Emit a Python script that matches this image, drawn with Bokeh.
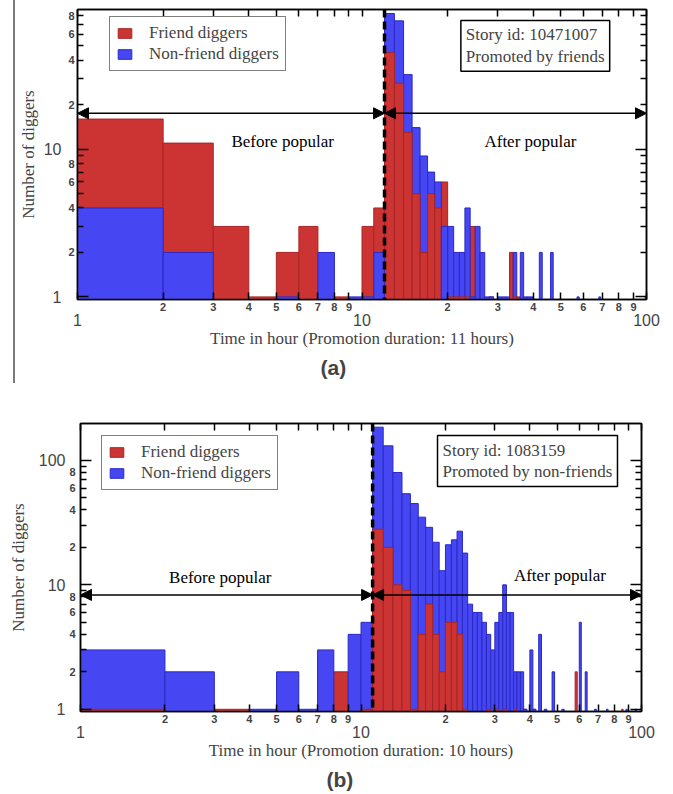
from bokeh.plotting import figure
from bokeh.models import (ColumnDataSource, FixedTicker, LogAxis, CustomJSTickFormatter,
                          Span, Arrow, NormalHead, Label, Legend, LegendItem, Title, Div, Range1d)
from bokeh.layouts import column, row
from bokeh.embed import file_html
from bokeh.resources import INLINE

# ---------------- data (1-hour bins, bin start hour -> number of diggers) ----------------
# (a) story 10471007, promoted by friends (promotion after 11 hours -> t = 12)
a_friend_hours = [1, 2, 3, 4, 5, 6, 8, 10, 11, 12, 13, 14, 15, 16, 17, 18, 19, 20, 21, 22, 23, 24, 28, 33, 34, 35]
a_friend_counts = [16, 11, 3, 1, 2, 3, 1, 3, 4, 45, 28, 13, 5, 2, 5, 4, 6, 1, 1, 1, 1, 3, 1, 2, 1, 1]
a_nonfriend_hours = [1, 2, 5, 7, 9, 10, 11, 12, 13, 14, 15, 16, 17, 18, 19, 20, 21, 22, 23, 24, 25, 26, 27, 28,
                     30, 31, 32, 34, 36, 37, 38, 39, 42, 46, 57, 68, 99]
a_nonfriend_counts = [4, 2, 1, 2, 1, 1, 2, 83, 74, 32, 14, 9, 7, 6, 3, 3, 2, 2, 4, 1, 3, 2, 1, 1,
                      1, 1, 1, 2, 2, 1, 1, 1, 2, 2, 1, 1, 1]
a_promotion = 12
a_story = "Story id: 10471007\nPromoted by friends"
a_xlabel = "Time in hour (Promotion duration: 11 hours)"

# (b) story 1083159, promoted by non-friends (promotion after 10 hours -> t = 11)
b_friend_hours = [1, 3, 8, 10, 11, 12, 13, 14, 15, 16, 17, 18, 19, 20, 21, 22, 23, 28, 30, 32, 35, 38, 41, 58, 85]
b_friend_counts = [1, 1, 2, 1, 28, 20, 10, 9, 1, 4, 7, 4, 2, 5, 5, 4, 1, 1, 1, 1, 1, 1, 1, 2, 1]
b_nonfriend_hours = [1, 2, 4, 5, 6, 7, 9, 10,
                     11, 12, 13, 14, 15, 16, 17, 18, 19, 20, 21, 22, 23, 24, 25, 26, 27, 28, 29, 30, 31,
                     32, 33, 34, 35, 36, 37,
                     38, 40, 41, 43, 45, 48, 52, 60, 63, 68, 75, 88, 95]
b_nonfriend_counts = [3, 2, 1, 2, 1, 3, 4, 5,
                      185, 131, 80, 54, 45, 35, 29, 22, 13, 21, 23, 27, 18, 7, 6, 6, 5, 4, 3, 5, 6,
                      10, 6, 6, 2, 2, 2,
                      1, 3, 1, 4, 1, 2, 1, 5, 2, 1, 1, 1, 1]
b_promotion = 11
b_story = "Story id: 1083159\nPromoted by non-friends"
b_xlabel = "Time in hour (Promotion duration: 10 hours)"

x_major = [1, 10, 100]
x_minor = [2, 3, 4, 5, 6, 7, 8, 9, 20, 30, 40, 50, 60, 70, 80, 90]
y_major = [1, 10, 100]
y_minor = [2, 3, 4, 5, 6, 7, 8, 9, 20, 30, 40, 50, 60, 70, 80, 90, 200]
y_minor_labeled = [2, 4, 6, 8, 20, 40, 60, 80]

RED, RED_EDGE = "#cc3434", "#a82424"
BLUE, BLUE_EDGE = "#4646f2", "#2a2ac4"
Y0 = 0.96
SERIF = "Liberation Serif"
SANS = "Liberation Sans"
SERIF_SIZE = "17px"


def digit_fmt():
    return CustomJSTickFormatter(code="""
        const e = Math.pow(10, Math.floor(Math.log10(tick) + 1e-9));
        return String(Math.round(tick / e));
    """)


def plain_fmt():
    return CustomJSTickFormatter(code="return String(Math.round(tick));")


def blank_fmt():
    return CustomJSTickFormatter(code="return '';")


def split(fh, fc, nh, nc):
    f = dict(zip(fh, fc))
    n = dict(zip(nh, nc))
    out = {k: dict(left=[], right=[], top=[]) for k in ("rb", "bb", "rf", "bf")}
    for h in sorted(set(f) | set(n)):
        r, b = f.get(h, 0), n.get(h, 0)
        pairs = [("rb", r), ("bf", b)] if r >= b else [("bb", b), ("rf", r)]
        for key, v in pairs:
            if v > 0:
                out[key]["left"].append(h)
                out[key]["right"].append(h + 1)
                out[key]["top"].append(v)
    return out


def make_panel(fh, fc, nh, nc, promo, story, xlabel, caption, *, width, height, left, right, top, bottom,
               ymax, arrow_y, before_xy, after_xy, story_xy, legend_loc, caption_offset,
               ylab_standoff, ymaj_standoff, ymin_standoff):
    p = figure(width=width, height=height, x_axis_type="log", y_axis_type="log",
               x_range=Range1d(1, 100), y_range=Range1d(Y0, ymax),
               x_axis_location=None, y_axis_location=None,
               min_border_left=left, min_border_right=right, min_border_top=top, min_border_bottom=bottom,
               toolbar_location=None, output_backend="svg")
    p.grid.visible = False
    p.outline_line_color = "black"
    p.outline_line_width = 1.5
    p.background_fill_color = "white"
    p.border_fill_color = "white"

    parts = split(fh, fc, nh, nc)
    rends = {}
    for key, fill, edge in (("rb", RED, RED_EDGE), ("bb", BLUE, BLUE_EDGE),
                            ("rf", RED, RED_EDGE), ("bf", BLUE, BLUE_EDGE)):
        src = ColumnDataSource(parts[key])
        rends[key] = p.quad(left="left", right="right", top="top", bottom=Y0, source=src,
                            fill_color=fill, line_color=edge, line_width=1)

    def tick_axis(ticks, minor, tin, mtin):
        return LogAxis(ticker=FixedTicker(ticks=ticks, minor_ticks=minor), formatter=blank_fmt(),
                       major_tick_in=tin, minor_tick_in=mtin, major_tick_out=0, minor_tick_out=0,
                       major_label_text_font_size="1px", major_label_standoff=0,
                       axis_line_width=1.5, major_tick_line_width=1.5, minor_tick_line_width=1.5,
                       axis_line_color="black")

    nol = dict(axis_line_color=None, major_tick_line_color=None, minor_tick_line_color=None,
               major_tick_in=0, major_tick_out=0, minor_tick_in=0, minor_tick_out=0)

    # bottom
    p.add_layout(tick_axis(x_major, x_minor, 7, 7), "below")
    p.add_layout(LogAxis(ticker=FixedTicker(ticks=x_minor, minor_ticks=[]), formatter=digit_fmt(),
                         major_label_standoff=3, major_label_text_font=SANS,
                         major_label_text_font_style="bold", major_label_text_font_size="11px",
                         **nol), "below")
    p.add_layout(LogAxis(ticker=FixedTicker(ticks=x_major, minor_ticks=[]), formatter=plain_fmt(),
                         major_label_standoff=0, major_label_text_font=SANS,
                         major_label_text_font_size="16px",
                         axis_label=xlabel, axis_label_standoff=0, axis_label_text_font=SERIF,
                         axis_label_text_font_style="normal", axis_label_text_font_size=SERIF_SIZE,
                         **nol), "below")
    p.add_layout(Title(text=caption, align="left", offset=caption_offset, text_font=SANS,
                       text_font_size="21px", text_font_style="bold", standoff=7), "below")
    # left
    p.add_layout(tick_axis(y_major, y_minor, 11, 6), "left")
    p.add_layout(LogAxis(ticker=FixedTicker(ticks=y_minor_labeled, minor_ticks=[]), formatter=digit_fmt(),
                         major_label_standoff=ymin_standoff, major_label_text_font=SANS,
                         major_label_text_font_style="bold", major_label_text_font_size="11px",
                         major_label_orientation="horizontal", **nol), "left")
    p.add_layout(LogAxis(ticker=FixedTicker(ticks=y_major, minor_ticks=[]), formatter=plain_fmt(),
                         major_label_standoff=ymaj_standoff, major_label_text_font=SANS,
                         major_label_text_font_size="16px", major_label_orientation="horizontal",
                         axis_label="Number of diggers", axis_label_standoff=ylab_standoff,
                         axis_label_text_font=SERIF, axis_label_text_font_style="normal",
                         axis_label_text_font_size=SERIF_SIZE, **nol), "left")
    # top / right (ticks only, inward)
    p.add_layout(tick_axis(x_major, x_minor, 7, 7), "above")
    p.add_layout(tick_axis(y_major, y_minor, 11, 6), "right")

    # promotion line and before/after arrows
    p.add_layout(Span(location=promo, dimension="height", line_color="black",
                      line_width=3.5, line_dash="8 4"))
    for xs, xe in ((1, promo), (promo, 100)):
        p.add_layout(Arrow(start=NormalHead(size=11, fill_color="black", line_color="black"),
                           end=NormalHead(size=11, fill_color="black", line_color="black"),
                           x_start=xs, y_start=arrow_y, x_end=xe, y_end=arrow_y,
                           line_color="black", line_width=1.5))
    for (x, y), txt in ((before_xy, "Before popular"), (after_xy, "After popular")):
        p.add_layout(Label(x=x, y=y, text=txt, text_align="center", text_baseline="middle",
                           text_font=SERIF, text_font_size=SERIF_SIZE, text_color="black"))
    p.add_layout(Label(x=story_xy[0], y=story_xy[1], text=story, text_align="left",
                       text_baseline="top", text_font=SERIF, text_font_size=SERIF_SIZE,
                       text_line_height=1.15, border_line_color="black", border_line_width=1.5,
                       background_fill_color="white", padding=5))

    legend = Legend(items=[LegendItem(label="Friend diggers", renderers=[rends["rb"]]),
                           LegendItem(label="Non-friend diggers", renderers=[rends["bb"]])],
                    location=legend_loc, label_text_font=SERIF, label_text_font_size=SERIF_SIZE,
                    glyph_width=17, glyph_height=12, label_standoff=16, padding=6, spacing=1,
                    label_height=20, margin=0, border_line_color="black", border_line_width=1.5,
                    background_fill_color="white", background_fill_alpha=1.0)
    p.add_layout(legend)
    return p


p_top = make_panel(a_friend_hours, a_friend_counts, a_nonfriend_hours, a_nonfriend_counts,
                   a_promotion, a_story, a_xlabel, "(a)",
                   width=658, height=395, left=60, right=27, top=9, bottom=96,
                   ymax=88.3, arrow_y=17.5, before_xy=(5.26, 11.3), after_xy=(39.1, 11.3),
                   story_xy=(22.26, 74.4), legend_loc=(32, 228), caption_offset=243,
                   ylab_standoff=3, ymaj_standoff=4, ymin_standoff=3)

p_bot = make_panel(b_friend_hours, b_friend_counts, b_nonfriend_hours, b_nonfriend_counts,
                   b_promotion, b_story, b_xlabel, "(b)",
                   width=673, height=399, left=80, right=32, top=28, bottom=82,
                   ymax=198, arrow_y=8.3, before_xy=(3.15, 11.4), after_xy=(51.2, 12.0),
                   story_xy=(18.74, 158.5), legend_loc=(21, 221), caption_offset=246,
                   ylab_standoff=8, ymaj_standoff=1, ymin_standoff=5)

edge = Div(text="", width=15, height=383,
           styles={"border-right": "2px solid #7a7a7a", "box-sizing": "border-box",
                   "margin": "0", "padding": "0"})
layout = column(row(edge, p_top, spacing=0), p_bot, spacing=0)

open("out.html", "w").write(file_html(layout, INLINE))
